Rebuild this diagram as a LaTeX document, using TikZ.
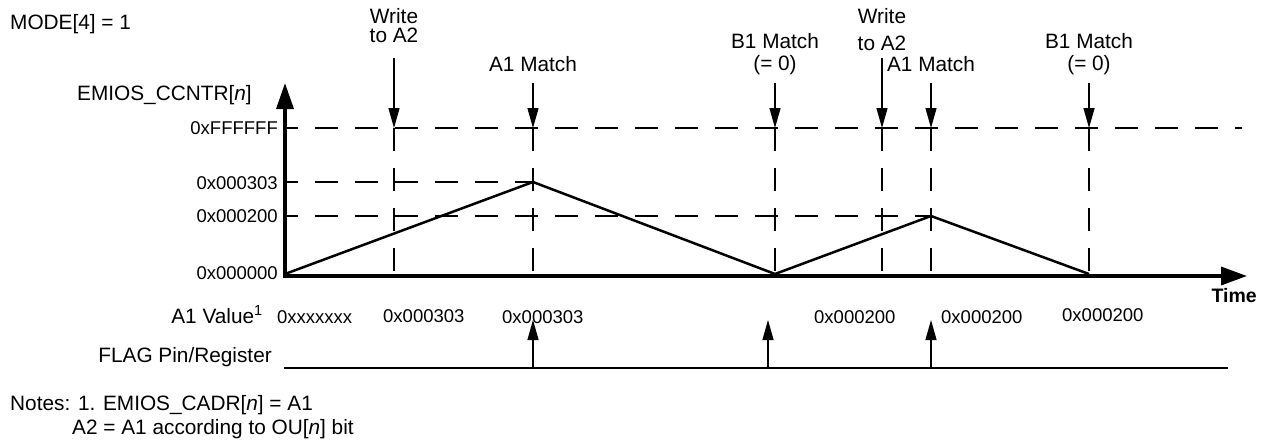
\documentclass[tikz,border=0pt]{standalone}
\usepackage{fontspec}
\setmainfont{Liberation Sans}
\usetikzlibrary{arrows.meta}
\begin{document}
\begin{tikzpicture}[x=1pt,y=-1pt,
  lbl/.style={font=\fontsize{20.8}{22}\selectfont, inner sep=0pt},
  hex/.style={font=\fontsize{18.5}{22}\selectfont, inner sep=0pt},
  axisline/.style={line width=3.5pt, line join=miter,
     {Triangle[length=26pt,width=17pt]}-{Triangle[length=26pt,width=18pt]}},
  gridline/.style={line width=2pt, dash pattern=on 23pt off 17pt},
  ramp/.style={line width=2.5pt, line join=miter},
  evt/.style={line width=1.3pt, -{Triangle[length=20pt,width=11pt]}},
  flagline/.style={line width=2.3pt},
]
\useasboundingbox (0,0) rectangle (1264,442);

% key points
\coordinate (O) at (285,276);
\coordinate (Ytop) at (285,83);
\coordinate (Xend) at (1247,276);

% grid lines
\draw[gridline, dash phase=10pt] (285,128) -- (1242,128);
\draw[gridline, dash phase=10pt] (285,182) -- (533,182);
\draw[gridline, dash phase=10pt] (285,216) -- (931,216);
\foreach \x in {394,533,775,882,931,1089}
  \draw[gridline] (\x,128) -- (\x,285);

% axes
\draw[axisline] (Ytop) -- (O) -- (Xend);

% counter
\draw[ramp] (285,274) coordinate (r0) -- (533,182) coordinate (r1)
  -- (775,274) coordinate (r2) -- (931,216) coordinate (r3) -- (1089,274) coordinate (r4);

% top labels
\node[lbl] (mode) at (10,29) [anchor=base west] {MODE[4] = 1};
\node[lbl] (cnt) at (77,100) [anchor=base west] {EMIOS\_CCNTR[\textit{n}]};

\node[lbl, align=center, anchor=north, font=\fontsize{20.8}{19}\selectfont] (w1) at (394,8) {Write\\to A2};
\node[lbl, anchor=base] (a1) at (533,71) {A1 Match};
\node[lbl, align=center, anchor=north, font=\fontsize{20.8}{22}\selectfont] (b1) at (775,33) {B1 Match\\(= 0)};
\node[lbl, align=center, anchor=north, font=\fontsize{20.8}{27}\selectfont] (w2) at (882,8) {Write\\to A2};
\node[lbl, anchor=base] (a2) at (931,71) {A1 Match};
\node[lbl, align=center, anchor=north, font=\fontsize{20.8}{22}\selectfont] (b2) at (1089,33) {B1 Match\\(= 0)};

\coordinate (t1) at (394,128);
\coordinate (t2) at (533,128);
\coordinate (t3) at (775,128);
\coordinate (t4) at (882,128);
\coordinate (t5) at (931,128);
\coordinate (t6) at (1089,128);
\draw[evt] (w1.south |- 0,58) -- (t1);
\draw[evt] (a1.south |- 0,83) -- (t2);
\draw[evt] (b1.south |- 0,83) -- (t3);
\draw[evt] (w2.south |- 0,58) -- (t4);
\draw[evt] (a2.south |- 0,83) -- (t5);
\draw[evt] (b2.south |- 0,83) -- (t6);

% y labels
\node[hex, anchor=east] (yF) at (278,128) {0xFFFFFF};
\node[hex, anchor=east] (y3) at (278,183) {0x000303};
\node[hex, anchor=east] (y2) at (278,216) {0x000200};
\node[hex, anchor=east] (y0) at (278,273) {0x000000};

% time label
\node[lbl, anchor=base east, font=\fontsize{19.5}{22}\selectfont\bfseries] (time) at (1257,302) {Time};

% A1 value row
\node[lbl, anchor=base east] (a1v) at (263,323) {A1 Value\textsuperscript{1}};
\node[hex, anchor=base west] (v0) at (277,323) {0xxxxxxx};
\node[hex, anchor=base west] (v1) at (383,322) {0x000303};
\node[hex, anchor=base west] (v2) at (502,323) {0x000303};
\node[hex, anchor=base west] (v3) at (814,323) {0x000200};
\node[hex, anchor=base west] (v4) at (941,323) {0x000200};
\node[hex, anchor=base west] (v5) at (1062,321) {0x000200};

% flag row
\node[lbl, anchor=base east] (flag) at (272,362) {FLAG Pin/Register};
\coordinate (fl0) at (284,368);
\coordinate (fl1) at (1228,368);
\draw[flagline] (fl0) -- (fl1);
\coordinate (f1) at (533,368);
\coordinate (f2) at (768,368);
\coordinate (f3) at (931,368);
\coordinate (u1) at (533,320);
\coordinate (u2) at (768,320);
\coordinate (u3) at (931,320);
\draw[evt] (f1) -- (u1);
\draw[evt] (f2) -- (u2);
\draw[evt] (f3) -- (u3);

% notes
\node[lbl, anchor=base west] (n1) at (10,410) {Notes: 1. EMIOS\_CADR[\textit{n}] = A1};
\node[lbl, anchor=base west] (n2) at (72,434) {A2 = A1 according to OU[\textit{n}] bit};
\end{tikzpicture}
\end{document}
